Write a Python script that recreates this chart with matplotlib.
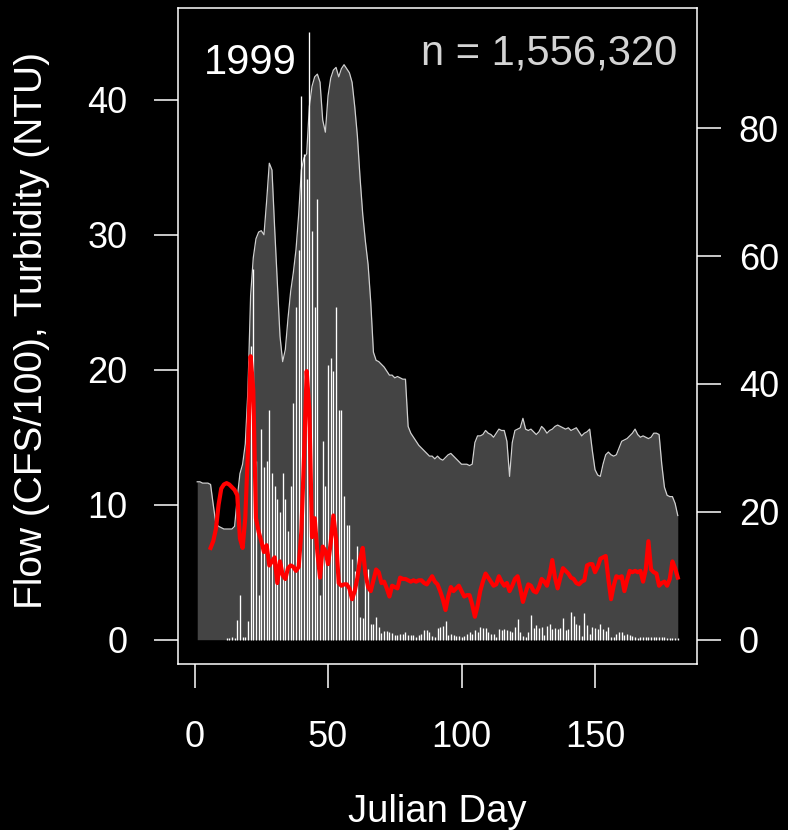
import numpy as np
import matplotlib.pyplot as plt

plt.rcParams['font.family'] = ['Liberation Sans', 'DejaVu Sans']

nan = np.nan
days = np.arange(1, 182)

# daily mean flow, CFS/100
flow = [
    11.7, 11.7, 11.6, 11.6, 11.6, 11.5, 10.0, 8.6, 8.4, 8.3,
    8.2, 8.2, 8.2, 8.2, 8.4, 10.5, 12.3, 13.0, 14.5, 18.5,
    25.5, 28.3, 29.7, 30.2, 30.3, 30.0, 32.5, 35.3, 34.8, 30.5,
    26.5, 22.5, 20.6, 21.5, 23.8, 25.8, 27.2, 28.9, 31.5, 34.8,
    35.7, 36.0, 39.5, 41.0, 41.7, 41.9, 41.3, 38.5, 37.6, 40.3,
    41.6, 42.2, 42.4, 41.7, 42.3, 42.6, 42.3, 42.0, 41.3, 39.5,
    37.3, 34.2, 31.5, 29.5, 27.8, 25.0, 21.3, 20.7, 20.6, 20.4,
    20.2, 19.9, 19.6, 19.6, 19.4, 19.5, 19.4, 19.3, 19.3, 15.8,
    15.3, 15.0, 14.7, 14.4, 14.2, 14.0, 13.8, 13.6, 13.6, 13.4,
    13.6, 13.4, 13.3, 13.5, 13.7, 13.8, 13.6, 13.4, 13.2, 13.0,
    13.0, 13.0, 12.9, 13.0, 14.6, 15.1, 15.1, 15.2, 15.5, 15.3,
    15.2, 15.0, 15.3, 15.6, 15.5, 15.5, 14.7, 12.1, 14.6, 15.5,
    15.6, 15.7, 16.4, 15.6, 15.5, 15.6, 15.4, 15.2, 15.4, 15.8,
    15.6, 15.3, 15.5, 15.6, 15.8, 15.9, 15.8, 15.7, 15.6, 15.7,
    15.5, 15.6, 15.7, 15.4, 15.1, 15.3, 15.4, 15.6, 14.0, 12.6,
    12.2, 12.1, 13.0, 13.7, 13.9, 13.7, 13.6, 13.7, 14.2, 14.7,
    14.8, 14.9, 15.1, 15.3, 15.6, 15.2, 15.0, 15.1, 15.0, 14.9,
    15.0, 15.3, 15.3, 15.2, 13.0, 11.3, 10.7, 10.6, 10.6, 10.1,
    9.2,
]

# daily mean turbidity, NTU
turbidity = [
    nan, nan, nan, nan, nan, 6.8, 7.3, 8.2, 10.0, 11.2,
    11.5, 11.6, 11.5, 11.3, 11.1, 10.7, 7.5, 6.8, 9.0, 14.0,
    21.0, 18.5, 9.0, 8.0, 7.3, 6.5, 7.0, 5.5, 5.8, 6.1,
    4.2, 5.8, 4.8, 4.5, 5.3, 5.5, 5.4, 5.1, 5.4, 8.0,
    13.5, 19.9, 17.0, 7.6, 9.0, 6.5, 4.6, 6.9, 6.6, 5.6,
    7.2, 9.2, 7.5, 4.2, 4.0, 4.1, 4.1, 3.8, 3.0, 3.6,
    4.6, 6.0, 6.8, 4.9, 3.9, 3.6, 4.4, 5.2, 5.0, 4.2,
    4.3, 3.8, 3.2, 4.0, 3.9, 3.8, 4.6, 4.5, 4.5, 4.4,
    4.3, 4.4, 4.3, 4.4, 4.4, 4.2, 4.1, 4.4, 4.7, 4.3,
    4.1, 3.6, 3.0, 2.2, 3.2, 3.9, 3.6, 3.8, 4.0, 3.6,
    3.2, 3.3, 3.3, 2.6, 1.7, 2.5, 3.6, 4.3, 4.9, 4.6,
    4.3, 4.0, 4.1, 4.7, 4.3, 4.0, 4.2, 3.6, 4.0, 4.5,
    4.7, 3.8, 2.8, 3.5, 4.1, 4.0, 3.6, 3.5, 3.9, 4.5,
    4.3, 4.0, 4.8, 5.9, 4.6, 3.8, 4.6, 5.3, 5.1, 4.9,
    4.6, 4.5, 4.2, 4.1, 4.3, 4.4, 5.5, 5.6, 5.6, 5.0,
    5.4, 6.0, 6.1, 6.2, 4.5, 3.0, 4.0, 4.7, 4.6, 4.7,
    3.6, 4.4, 5.1, 5.0, 5.1, 5.0, 5.1, 4.3, 5.2, 7.3,
    5.2, 5.0, 4.9, 4.0, 4.2, 4.3, 4.0, 4.5, 5.8, 5.3,
    4.6,
]

# daily counts, right axis
counts = [
    0, 0, 0, 0, 0, 0, 0, 0, 0, 0,
    0, 0.3, 0.3, 0.4, 0.3, 3.1, 7.0, 0.4, 0.5, 3.0,
    46, 58, 28, 7, 33, 27, 28, 36, 26, 24,
    22, 20, 26, 22, 17, 24, 37, 52, 61, 85,
    76, 72, 95, 64, 52, 69, 7, 31, 24, 43,
    44, 42, 52, 36, 36, 22.5, 18, 18, 12.7, 10.8,
    14.7, 3.6, 3.4, 10, 11, 2.5, 2.5, 3.6, 2.0, 1.1,
    1.3, 1.3, 1.2, 1.0, 0.8, 0.7, 0.9, 0.9, 1.2, 0.7,
    0.7, 0.8, 0.4, 0.8, 0.94, 1.46, 1.46, 1.2, 0.57, 0.42,
    1.82, 1.98, 2.14, 3.0, 0.78, 0.94, 0.68, 0.52, 0.52, 0.42,
    0.52, 0.94, 1.2, 0.94, 1.46, 1.15, 1.98, 1.82, 1.9, 1.2,
    0.89, 0.94, 0.42, 1.62, 1.46, 1.62, 1.46, 1.4, 1.2, 1.98,
    3.2, 1.2, 0.52, 0.42, 1.2, 3.85, 1.82, 2.3, 1.82, 1.98,
    0.78, 2.14, 2.4, 1.62, 1.82, 1.72, 1.82, 3.4, 1.46, 1.62,
    4.3, 3.7, 2.5, 2.3, 0.6, 4.1, 2.3, 0.9, 2.0, 1.8,
    1.6, 2.4, 1.7, 1.3, 2.0, 0.4, 0.36, 0.94, 1.15, 1.2,
    0.7, 0.94, 0.7, 0.6, 0.4, 0.26, 0.36, 0.42, 0.5, 0.47,
    0.36, 0.36, 0.36, 0.47, 0.42, 0.36, 0.3, 0.26, 0.26, 0.26,
    0.26,
]

year = '1999'
n_label = 'n = 1,556,320'
left_ticks = [0, 10, 20, 30, 40]
right_ticks = [0, 20, 40, 60, 80]
x_ticks = [0, 50, 100, 150]

W, H = 788, 830
fig = plt.figure(figsize=(W / 100, H / 100), dpi=100, facecolor='black')
box = [178 / W, 1 - 664 / H, (697 - 178) / W, (664 - 8) / H]

# flow polygon on the left scale
ax = fig.add_axes(box)
ax.set_facecolor('black')
ax.fill_between(days, 0, flow, color='#444444', lw=0, zorder=1)
ax.plot(days, flow, color='#d0d0d0', lw=0.9, zorder=2)
ax.set_xlim(-6.2, 188.2)
ax.set_ylim(-1.8, 46.8)

# counts as thin vertical bars on the right scale
ax2 = ax.twinx()
ax2.vlines(days, 0, counts, colors='white', lw=0.95, capstyle='butt')
ax2.set_ylim(-3.8, 98.8)

# turbidity on top, same scale as flow
ax3 = ax.twinx()
ax3.plot(days, turbidity, color='#ff0000', lw=3.0, solid_joinstyle='round')
ax3.set_ylim(ax.get_ylim())
ax3.axis('off')

for s in ax.spines.values():
    s.set_color('white')
    s.set_linewidth(1.1)
for s in ax2.spines.values():
    s.set_visible(False)

ax.set_xticks(x_ticks)
ax.set_yticks(left_ticks)
ax2.set_yticks(right_ticks)
ax.tick_params(axis='x', direction='out', length=17, width=1.1, colors='white',
               labelsize=26, pad=23)
ax.tick_params(axis='y', direction='out', length=17, width=1.1, colors='white',
               labelsize=26, pad=19.5)
ax2.tick_params(axis='y', direction='out', length=17, width=1.1, colors='white',
                labelsize=26, pad=13)

fig.text(204 / W, 1 - 74 / H, year, fontsize=30, color='white',
         ha='left', va='baseline')
fig.text(677 / W, 1 - 64 / H, n_label, fontsize=30, color='#d4d4d4',
         ha='right', va='baseline')
fig.text(437.5 / W, 1 - 822 / H, 'Julian Day', fontsize=27.5, color='white',
         ha='center', va='baseline')
fig.text(32 / W, 1 - 330 / H, 'Flow (CFS/100), Turbidity (NTU)', fontsize=28,
         color='white', rotation=90, ha='center', va='center')

fig.savefig('out.png', dpi=100, facecolor='black')
